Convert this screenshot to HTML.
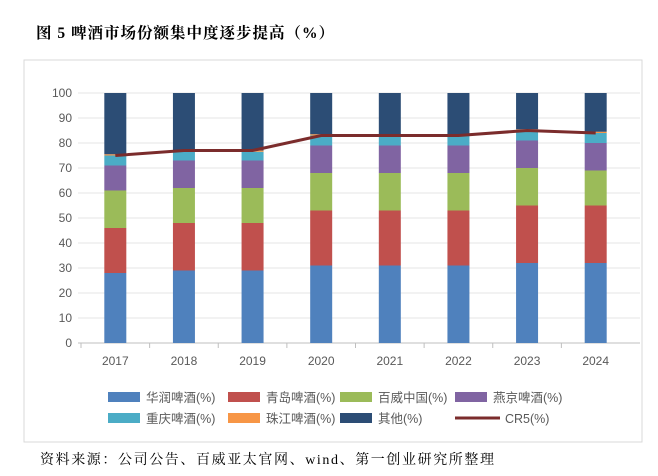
<!DOCTYPE html>
<html><head><meta charset="utf-8"><style>
body{margin:0;background:#fff;width:658px;height:476px;overflow:hidden;font-family:"Liberation Sans","Noto Sans CJK SC",sans-serif}
.t{position:absolute;left:36px;top:21px;font-size:15.5px;font-weight:bold;color:#000;letter-spacing:1px;font-family:"Liberation Serif","Noto Serif CJK SC",serif}
.s{position:absolute;left:40px;top:449px;font-size:14px;color:#000;letter-spacing:1.6px;font-family:"Liberation Serif","Noto Serif CJK SC",serif}
</style></head><body>
<div class="t">图 5 啤酒市场份额集中度逐步提高（%）</div>
<svg id="c" width="658" height="476" style="position:absolute;left:0;top:0">
<rect x="24" y="60" width="618" height="382" fill="none" stroke="#d9d9d9"/>
</svg>
<div class="s">资料来源：公司公告、百威亚太官网、wind、第一创业研究所整理</div>
<script>
const years=["2017","2018","2019","2020","2021","2022","2023","2024"];
const huarun=[28,29,29,31,31,31,32,32];
const qingdao=[18,19,19,22,22,22,23,23];
const baiwei=[15,14,14,15,15,15,15,14];
const yanjing=[10,11,11,11,11,11,11,11];
const chongqing=[4,3.5,3.5,4,4,4,4,4];
const zhujiang=[0.5,0.5,0.5,0.5,0.5,0.5,0.5,0.5];
const cr5=[75,77,77,83,83,83,85,84];
const yTicks=[0,10,20,30,40,50,60,70,80,90,100];
const names=["华润啤酒(%)","青岛啤酒(%)","百威中国(%)","燕京啤酒(%)","重庆啤酒(%)","珠江啤酒(%)","其他(%)"];
const colors=["#4f81bd","#c0504d","#9bbb59","#8064a2","#4bacc6","#f79646","#2c4d75"];
const ns="http://www.w3.org/2000/svg";
const svg=document.getElementById('c');
const L=81,R=630,T=93,B=343;
const step=(R-L)/years.length;
const x=i=>L+step*(i+0.5);
const y=v=>B-(v/100)*(B-T);
function mk(t,a){const e=document.createElementNS(ns,t);for(const k in a)e.setAttribute(k,a[k]);svg.appendChild(e);return e;}
yTicks.forEach(v=>{
 const g=mk('line',{x1:L-3,x2:R+10,y1:y(v),y2:y(v),stroke:v===0?'#bfbfbf':'#e6e6e6','stroke-width':1});
 
 
 const t=mk('text',{x:L-9,y:y(v)+4,'text-anchor':'end','font-size':12,fill:'#595959','font-family':'Liberation Sans'});
 t.textContent=v;
 
 
});
years.forEach((yr,i)=>{
 const tk=mk('line',{x1:L+step*i,x2:L+step*i,y1:B,y2:B+5,stroke:'#bfbfbf'});
 
 
 const t=mk('text',{x:x(i),y:B+22,'text-anchor':'middle','font-size':12,fill:'#595959','font-family':'Liberation Sans'});
 t.textContent=yr;
 
 
});
const series=[huarun,qingdao,baiwei,yanjing,chongqing,zhujiang];
years.forEach((yr,i)=>{
 let c=0;
 const vals=series.map(s=>s[i]);
 vals.push(100-vals.reduce((a,b)=>a+b,0));
 vals.forEach((v,k)=>{
  const r=mk('rect',{x:x(i)-11,y:y(c+v),width:22,height:y(c)-y(c+v),fill:colors[k]});
  
  
  c+=v;
 });
});
const pl=mk('polyline',{points:cr5.map((v,i)=>x(i)+','+y(v)).join(' '),fill:'none',stroke:'#7b2c2c','stroke-width':3});


const lx=[108,228,340,455];
names.forEach((n,k)=>{
 const r=Math.floor(k/4),cc=k%4;
 const yy=r?418:397;
 const sw=mk('rect',{x:lx[cc],y:yy-5,width:32,height:10,fill:colors[k]});
 
 
 const t=mk('text',{x:lx[cc]+38,y:yy+5,'font-size':12.5,fill:'#595959','font-family':'Liberation Sans, Noto Sans CJK SC, sans-serif'});
 t.textContent=n;
 
 
});
const ll=mk('line',{x1:455,x2:500,y1:418,y2:418,stroke:'#7b2c2c','stroke-width':3});


const lt=mk('text',{x:505,y:423,'font-size':12.5,fill:'#595959','font-family':'Liberation Sans'});
lt.textContent="CR5(%)";


</script>
</body></html>
